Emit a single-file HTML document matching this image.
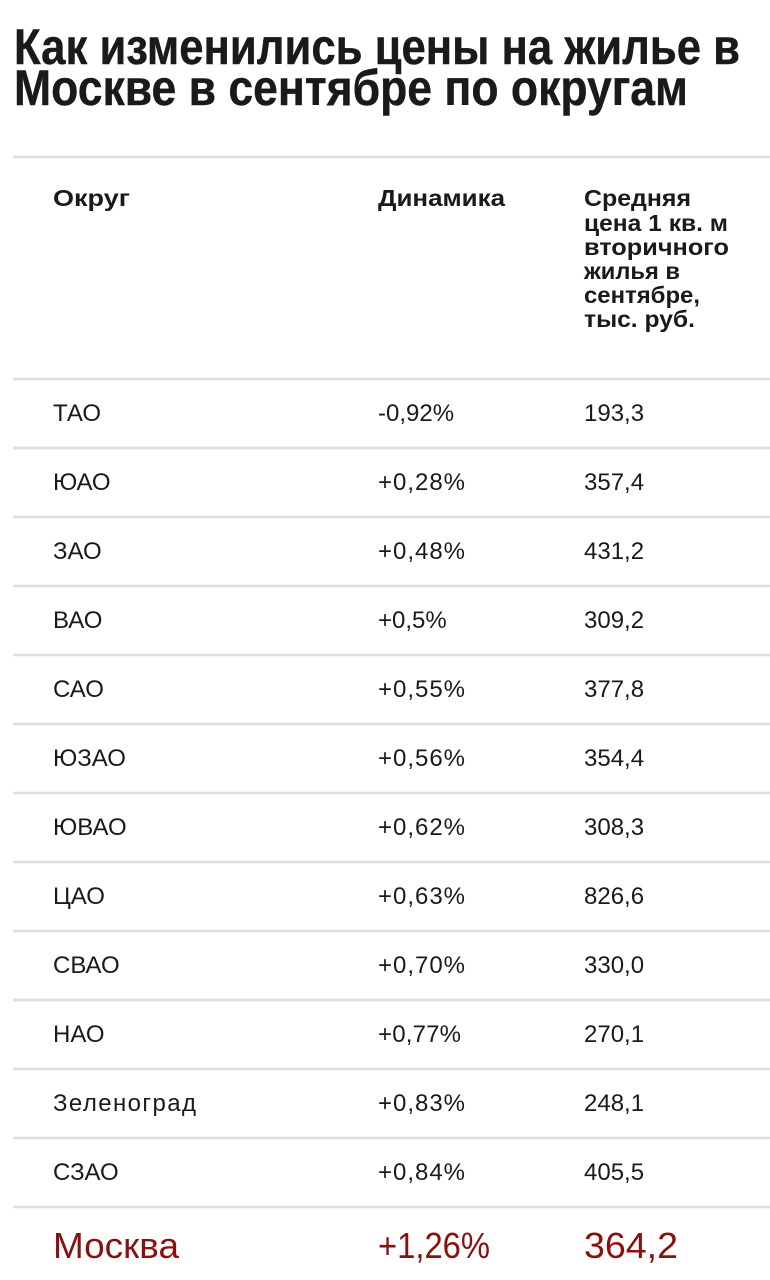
<!DOCTYPE html>
<html><head><meta charset="utf-8"><style>
html,body{margin:0;padding:0;background:#fff;}
svg{display:block}
text{font-family:"Liberation Sans",sans-serif;fill:#1a1a1a}
.t{font-weight:bold;font-size:50px;stroke:#1a1a1a;stroke-width:0.4}
.h{font-weight:bold;font-size:23px}
.r{font-size:24px}
.m{font-size:36px;fill:#8a1010}
</style></head><body>
<svg width="770" height="1280" viewBox="0 0 770 1280">
<text class="t" x="14" y="64" textLength="726" lengthAdjust="spacingAndGlyphs">Как изменились цены на жилье в</text>
<text class="t" x="14" y="105" textLength="674" lengthAdjust="spacingAndGlyphs">Москве в сентябре по округам</text>
<g stroke="#dedede" stroke-width="2.5">
<line x1="13" x2="770" y1="157" y2="157"/>
<line x1="13" x2="770" y1="379" y2="379"/>
<line x1="13" x2="770" y1="448" y2="448"/>
<line x1="13" x2="770" y1="517" y2="517"/>
<line x1="13" x2="770" y1="586" y2="586"/>
<line x1="13" x2="770" y1="655" y2="655"/>
<line x1="13" x2="770" y1="724" y2="724"/>
<line x1="13" x2="770" y1="793" y2="793"/>
<line x1="13" x2="770" y1="862" y2="862"/>
<line x1="13" x2="770" y1="931" y2="931"/>
<line x1="13" x2="770" y1="1000" y2="1000"/>
<line x1="13" x2="770" y1="1069" y2="1069"/>
<line x1="13" x2="770" y1="1138" y2="1138"/>
<line x1="13" x2="770" y1="1207" y2="1207"/>
</g>
<text class="h" x="53" y="206" textLength="77" lengthAdjust="spacingAndGlyphs">Округ</text>
<text class="h" x="378" y="206" textLength="127" lengthAdjust="spacingAndGlyphs">Динамика</text>
<text class="h" x="584" y="206" textLength="107" lengthAdjust="spacingAndGlyphs">Средняя</text>
<text class="h" x="584" y="231" textLength="144" lengthAdjust="spacingAndGlyphs">цена 1 кв. м</text>
<text class="h" x="584" y="255" textLength="145" lengthAdjust="spacingAndGlyphs">вторичного</text>
<text class="h" x="584" y="279" textLength="96" lengthAdjust="spacingAndGlyphs">жилья в</text>
<text class="h" x="584" y="303" textLength="116" lengthAdjust="spacingAndGlyphs">сентябре,</text>
<text class="h" x="584" y="327" textLength="111" lengthAdjust="spacingAndGlyphs">тыс. руб.</text>
<g>
<text class="r" x="53" y="421">ТАО</text><text class="r" x="378" y="421">-0,92%</text><text class="r" x="584" y="421">193,3</text>
<text class="r" x="53" y="490">ЮАО</text><text class="r" x="378" y="490" textLength="87">+0,28%</text><text class="r" x="584" y="490">357,4</text>
<text class="r" x="53" y="559">ЗАО</text><text class="r" x="378" y="559" textLength="87">+0,48%</text><text class="r" x="584" y="559">431,2</text>
<text class="r" x="53" y="628">ВАО</text><text class="r" x="378" y="628">+0,5%</text><text class="r" x="584" y="628">309,2</text>
<text class="r" x="53" y="697">САО</text><text class="r" x="378" y="697" textLength="87">+0,55%</text><text class="r" x="584" y="697">377,8</text>
<text class="r" x="53" y="766">ЮЗАО</text><text class="r" x="378" y="766" textLength="87">+0,56%</text><text class="r" x="584" y="766">354,4</text>
<text class="r" x="53" y="835">ЮВАО</text><text class="r" x="378" y="835" textLength="87">+0,62%</text><text class="r" x="584" y="835">308,3</text>
<text class="r" x="53" y="904">ЦАО</text><text class="r" x="378" y="904" textLength="87">+0,63%</text><text class="r" x="584" y="904">826,6</text>
<text class="r" x="53" y="973">СВАО</text><text class="r" x="378" y="973" textLength="87">+0,70%</text><text class="r" x="584" y="973">330,0</text>
<text class="r" x="53" y="1042">НАО</text><text class="r" x="378" y="1042" textLength="83">+0,77%</text><text class="r" x="584" y="1042">270,1</text>
<text class="r" x="53" y="1111" textLength="143">Зеленоград</text><text class="r" x="378" y="1111" textLength="87">+0,83%</text><text class="r" x="584" y="1111">248,1</text>
<text class="r" x="53" y="1180">СЗАО</text><text class="r" x="378" y="1180" textLength="87">+0,84%</text><text class="r" x="584" y="1180">405,5</text>
</g>
<text class="m" x="53" y="1258" textLength="126" lengthAdjust="spacingAndGlyphs">Москва</text>
<text class="m" x="378" y="1258" textLength="112" lengthAdjust="spacingAndGlyphs">+1,26%</text>
<text class="m" x="584" y="1258" textLength="94" lengthAdjust="spacingAndGlyphs">364,2</text>
</svg>
</body></html>
